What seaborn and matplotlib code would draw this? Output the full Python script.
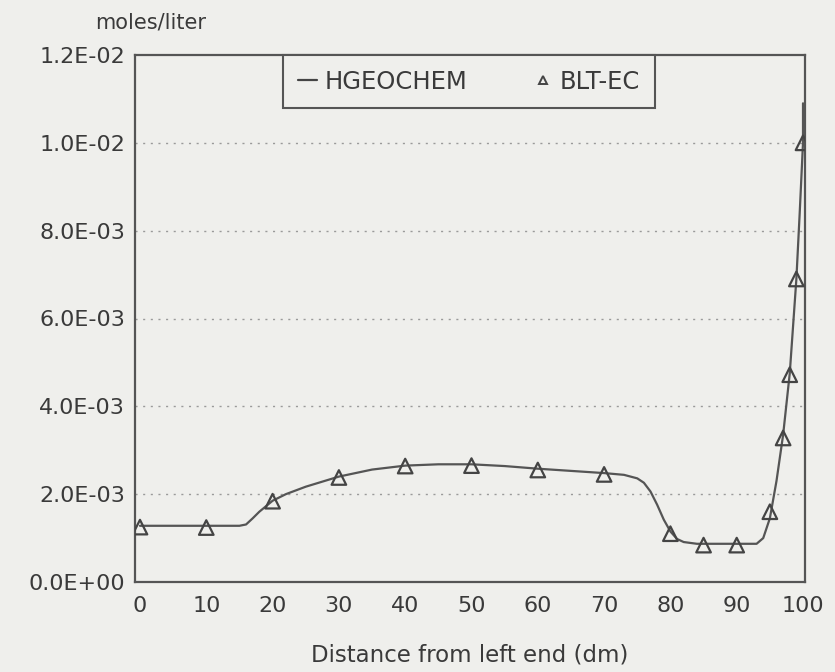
import matplotlib
matplotlib.use("Agg")
import matplotlib.pyplot as plt
from matplotlib.lines import Line2D
import seaborn as sns
import pandas as pd

# HGEOCHEM curve, units: moles/liter
hg_x = [0, 5, 10, 15, 16, 17, 18, 20, 22, 25, 30, 35, 40, 45, 50, 55, 60, 65, 70,
        73, 75, 76, 77, 78, 79, 80, 81, 82, 84, 90, 93, 94, 95, 96, 97, 98, 99, 99.5, 100, 100]
hg_y = [1.28e-3, 1.28e-3, 1.28e-3, 1.28e-3, 1.31e-3, 1.45e-3, 1.60e-3, 1.85e-3, 2.00e-3, 2.17e-3,
        2.40e-3, 2.56e-3, 2.65e-3, 2.68e-3, 2.68e-3, 2.64e-3, 2.58e-3, 2.53e-3, 2.48e-3,
        2.44e-3, 2.36e-3, 2.26e-3, 2.06e-3, 1.76e-3, 1.42e-3, 1.15e-3, 0.98e-3, 0.91e-3, 0.87e-3,
        0.87e-3, 0.87e-3, 1.00e-3, 1.45e-3, 2.30e-3, 3.35e-3, 4.75e-3, 6.90e-3, 8.40e-3, 1.00e-2, 1.09e-2]

# BLT-EC points
blt_x = [0, 10, 20, 30, 40, 50, 60, 70, 80, 85, 90, 95, 97, 98, 99, 100]
blt_y = [1.25e-3, 1.24e-3, 1.84e-3, 2.38e-3, 2.64e-3, 2.65e-3, 2.55e-3, 2.45e-3,
         1.10e-3, 0.84e-3, 0.84e-3, 1.60e-3, 3.28e-3, 4.72e-3, 6.90e-3, 1.00e-2]

y_ticks = [0.0, 2e-3, 4e-3, 6e-3, 8e-3, 1e-2, 1.2e-2]
y_ticklabels = ["0.0E+00", "2.0E-03", "4.0E-03", "6.0E-03", "8.0E-03", "1.0E-02", "1.2E-02"]
x_ticks = [0, 10, 20, 30, 40, 50, 60, 70, 80, 90, 100]
x_ticklabels = ["0", "10", "20", "30", "40", "50", "60", "70", "80", "90", "100"]

sns.set_style("white")
plt.rcParams['font.family'] = ['DejaVu Sans']

bg = "#efefec"
ink = "#3a3a3a"

fig = plt.figure(figsize=(8.35, 6.72), dpi=100, facecolor=bg)
ax = fig.add_axes([135/835, 1 - 582/672, 670/835, 527/672])
ax.set_facecolor(bg)

df_line = pd.DataFrame({"x": hg_x, "y": hg_y})
df_pts = pd.DataFrame({"x": blt_x, "y": blt_y})

sns.lineplot(data=df_line, x="x", y="y", ax=ax, color="#555555", linewidth=1.6,
             sort=False, estimator=None, legend=False)
sns.scatterplot(data=df_pts, x="x", y="y", ax=ax, marker="^", s=110,
                facecolor="none", edgecolor="#444444", linewidth=1.6, legend=False, zorder=5)

ax.set_xlim(-0.75, 100.3)
ax.set_ylim(0, 0.012)
ax.set_xticks(x_ticks)
ax.set_xticklabels(x_ticklabels, fontsize=16, color=ink)
ax.set_yticks(y_ticks)
ax.set_yticklabels(y_ticklabels, fontsize=16, color=ink)
ax.tick_params(axis="both", length=0)
ax.tick_params(axis="y", pad=7)
ax.tick_params(axis="x", pad=10)

for yv in y_ticks[1:-1]:
    ax.axhline(yv, color="#9a9a9a", linewidth=1.0, linestyle=(0, (1.5, 4)), zorder=1)

for sp in ax.spines.values():
    sp.set_visible(True)
    sp.set_color("#555555")
    sp.set_linewidth(1.6)

ax.set_xlabel("Distance from left end (dm)", fontsize=16.5, color=ink, labelpad=20)
ax.set_ylabel("")
fig.text(95/835, 1 - 22/672, "moles/liter", fontsize=15, color=ink, ha="left", va="center")

handles = [Line2D([0], [0], color="#444444", linewidth=1.6),
           Line2D([0], [0], marker="^", linestyle="", markersize=6, markerfacecolor="none",
                  markeredgecolor="#444444", markeredgewidth=1.4)]
leg = ax.legend(handles, ["HGEOCHEM", "BLT-EC"], ncol=2, fontsize=17.5,
                loc="upper left", bbox_to_anchor=((283-135)/670, 1.0, (655-283)/670, 0.0),
                mode="expand", frameon=True, fancybox=False, borderpad=0.6,
                handlelength=0.8, handletextpad=0.3, columnspacing=0.8, borderaxespad=0.0)
leg.get_frame().set_edgecolor("#555555")
leg.get_frame().set_linewidth(1.5)
leg.get_frame().set_facecolor(bg)
leg.get_frame().set_alpha(1.0)
for t in leg.get_texts():
    t.set_color(ink)

fig.savefig("out.png", dpi=100, facecolor=bg)
